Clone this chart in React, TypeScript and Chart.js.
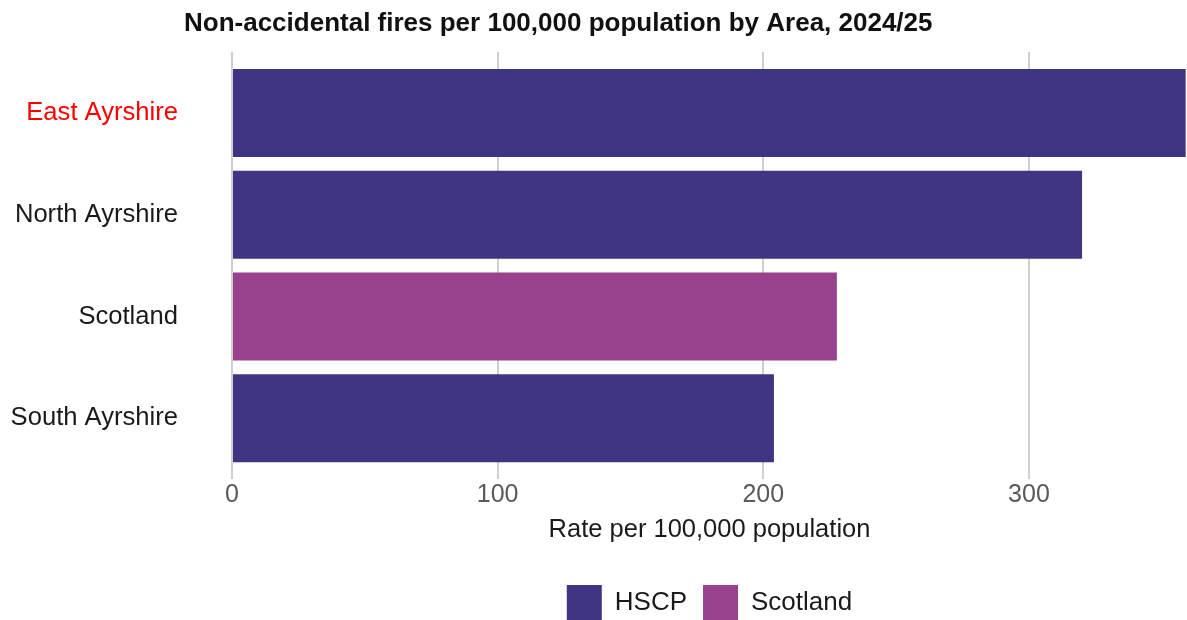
import React, { useEffect, useRef } from "react";
import { Chart, registerables } from "chart.js";

Chart.register(...registerables);

// ---- Data ----
const CATEGORIES = ["East Ayrshire", "North Ayrshire", "Scotland", "South Ayrshire"];
const HSCP_AREAS = ["East Ayrshire", "North Ayrshire", "South Ayrshire"];
const HSCP_VALUES = [359, 320, 204];
const SCOTLAND_AREAS = ["Scotland"];
const SCOTLAND_VALUES = [227.7];
const X_TICKS = [0, 100, 200, 300];
const X_MAX = 359.5;
const HIGHLIGHT = "East Ayrshire";
const TITLE = "Non-accidental fires per 100,000 population by Area, 2024/25";
const X_TITLE = "Rate per 100,000 population";
const SERIES_NAMES = ["HSCP", "Scotland"];

const FONT = '"Liberation Sans", Arial, Helvetica, sans-serif';
const HSCP_COLOR = "#3F3683";
const SCOT_COLOR = "#98428F";

const titlePlugin = {
  id: "customTitle",
  afterDraw(chart: any) {
    const c = chart.ctx;
    c.save();
    c.font = `bold 26px ${FONT}`;
    c.fillStyle = "#111111";
    c.textAlign = "left";
    c.textBaseline = "alphabetic";
    c.fillText(TITLE, 184, 31);
    c.restore();
  },
};

export default function App() {
  const ref = useRef<HTMLCanvasElement | null>(null);

  useEffect(() => {
    if (!ref.current) return;
    const hscpData = HSCP_AREAS.map((a, i) => ({ x: HSCP_VALUES[i], y: CATEGORIES.indexOf(a) }));
    const scotData = SCOTLAND_AREAS.map((a, i) => ({ x: SCOTLAND_VALUES[i], y: CATEGORIES.indexOf(a) }));

    const chart = new Chart(ref.current, {
      type: "bar",
      data: {
        datasets: [
          {
            label: SERIES_NAMES[0],
            data: hscpData,
            backgroundColor: HSCP_COLOR,
            borderWidth: 0,
          },
          {
            label: SERIES_NAMES[1],
            data: scotData,
            backgroundColor: SCOT_COLOR,
            borderWidth: 0,
          },
        ],
      },
      options: {
        indexAxis: "y",
        animation: false,
        responsive: false,
        maintainAspectRatio: false,
        layout: { padding: { top: 52, left: 0, right: 0, bottom: 0 } },
        datasets: {
          bar: { grouped: false, categoryPercentage: 1, barPercentage: 0.865 },
        } as any,
        plugins: {
          title: { display: false },
          tooltip: { enabled: false },
          legend: {
            display: true,
            position: "bottom",
            fullSize: false,
            align: "center",
            labels: {
              boxWidth: 35,
              boxHeight: 35,
              padding: 16,
              color: "#1a1a1a",
              font: { family: FONT, size: 26 },
            },
          },
        },
        scales: {
          x: {
            type: "linear",
            position: "bottom",
            min: 0,
            max: X_MAX,
            bounds: "data",
            offset: false,
            afterBuildTicks: (s: any) => {
              s.ticks = X_TICKS.map((v) => ({ value: v }));
            },
            grid: { color: "#cfcfcf", lineWidth: 2, drawTicks: false, offset: false },
            border: { display: false },
            ticks: {
              color: "#5a5a5a",
              padding: 1,
              font: { family: FONT, size: 25 },
            },
            title: {
              display: true,
              text: X_TITLE,
              color: "#1a1a1a",
              font: { family: FONT, size: 25.5 },
              padding: { top: 3, bottom: 24 },
            },
          },
          y: {
            type: "linear",
            min: -0.6,
            max: 3.6,
            reverse: true,
            bounds: "data",
            offset: false,
            afterBuildTicks: (s: any) => {
              s.ticks = CATEGORIES.map((_, i) => ({ value: i }));
            },
            afterFit: (s: any) => {
              s.width = 232;
              s.paddingTop = 0;
              s.paddingBottom = 0;
            },
            grid: { display: false, drawTicks: false, offset: false },
            border: { display: false },
            ticks: {
              autoSkip: false,
              padding: 54,
              font: { family: FONT, size: 25.6 },
              color: (ctx: any) =>
                CATEGORIES[ctx.tick?.value] === HIGHLIGHT ? "#ff0000" : "#1a1a1a",
              callback: (v: any) => CATEGORIES[v as number] ?? "",
            },
          },
        },
      } as any,
      plugins: [titlePlugin],
    });
    return () => chart.destroy();
  }, []);

  return (
    <div
      style={{
        position: "fixed",
        left: 0,
        top: 0,
        width: 1187,
        height: 620,
        overflow: "hidden",
        background: "#ffffff",
      }}
    >
      <canvas ref={ref} width={1187} height={630} style={{ display: "block" }} />
    </div>
  );
}
